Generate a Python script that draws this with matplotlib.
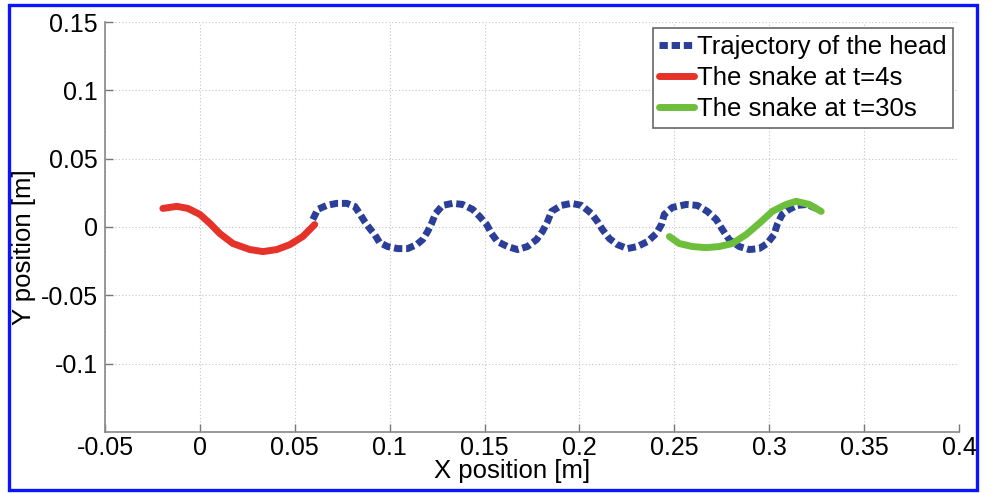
import matplotlib
matplotlib.use("Agg")
import matplotlib.pyplot as plt
from matplotlib.patches import Rectangle

plt.rcParams['font.family'] = ['Liberation Sans', 'DejaVu Sans']

# Trajectory of the head (blue, dotted)
head_x = [0.0595, 0.0621, 0.0668, 0.0721, 0.0774, 0.0816, 0.0842, 0.0868, 0.0895, 0.0921,
          0.0947, 0.0989, 0.1042, 0.1095, 0.1142, 0.1174, 0.1200, 0.1221, 0.1242, 0.1279,
          0.1332, 0.1384, 0.1437, 0.1474, 0.1511, 0.1537, 0.1568, 0.1621, 0.1674, 0.1726,
          0.1774, 0.1805, 0.1832, 0.1853, 0.1905, 0.1958, 0.2011, 0.2063, 0.2095, 0.2121,
          0.2158, 0.2200, 0.2253, 0.2305, 0.2358, 0.2405, 0.2432, 0.2447, 0.2489, 0.2563,
          0.2621, 0.2674, 0.2721, 0.2753, 0.2789, 0.2842, 0.2895, 0.2947, 0.2989, 0.3026,
          0.3042, 0.3068, 0.3105, 0.3147, 0.3200, 0.3247]
head_y = [0.0055, 0.0129, 0.0158, 0.0173, 0.0173, 0.0151, 0.0099, 0.0040, -0.0011, -0.0055,
          -0.0114, -0.0143, -0.0158, -0.0158, -0.0129, -0.0092, -0.0033, 0.0026, 0.0099, 0.0158,
          0.0173, 0.0165, 0.0129, 0.0077, 0.0018, -0.0048, -0.0107, -0.0143, -0.0165, -0.0143,
          -0.0092, -0.0033, 0.0040, 0.0114, 0.0158, 0.0173, 0.0158, 0.0099, 0.0040, -0.0018,
          -0.0085, -0.0129, -0.0158, -0.0143, -0.0107, -0.0048, 0.0018, 0.0092, 0.0143, 0.0165,
          0.0158, 0.0114, 0.0055, -0.0018, -0.0092, -0.0143, -0.0165, -0.0158, -0.0121, -0.0055,
          0.0018, 0.0092, 0.0129, 0.0158, 0.0165, 0.0136]

# The snake at t=4s (red)
snake4_x = [-0.0195, -0.0121, -0.0063, 0.0000, 0.0053, 0.0105, 0.0174, 0.0263, 0.0332,
            0.0405, 0.0474, 0.0542, 0.0605]
snake4_y = [0.0136, 0.0151, 0.0136, 0.0092, 0.0026, -0.0048, -0.0121, -0.0165, -0.0180,
            -0.0165, -0.0129, -0.0070, 0.0018]

# The snake at t=30s (green)
snake30_x = [0.2474, 0.2526, 0.2595, 0.2668, 0.2737, 0.2805, 0.2879, 0.2947, 0.3016,
             0.3089, 0.3142, 0.3211, 0.3274]
snake30_y = [-0.0070, -0.0121, -0.0143, -0.0151, -0.0143, -0.0121, -0.0055, 0.0026, 0.0114,
             0.0165, 0.0188, 0.0165, 0.0114]

labels = ["Trajectory of the head", "The snake at t=4s", "The snake at t=30s"]
xticks = [-0.05, 0, 0.05, 0.1, 0.15, 0.2, 0.25, 0.3, 0.35, 0.4]
xticklabels = ["-0.05", "0", "0.05", "0.1", "0.15", "0.2", "0.25", "0.3", "0.35", "0.4"]
yticks = [-0.1, -0.05, 0, 0.05, 0.1, 0.15]
yticklabels = ["-0.1", "-0.05", "0", "0.05", "0.1", "0.15"]

fig = plt.figure(figsize=(9.92, 4.93), dpi=100)
ax = fig.add_axes([105/992, 1-432/493, (959-105)/992, (432-22)/493])

ax.plot(head_x, head_y, color='#2b3f99', lw=5, dashes=(1.2, 0.55),
        dash_capstyle='butt', solid_capstyle='butt', label=labels[0], zorder=3)
ax.plot(snake4_x, snake4_y, color='#e5332a', lw=5, solid_capstyle='round',
        label=labels[1], zorder=4)
ax.plot(snake30_x, snake30_y, color='#6dbf3b', lw=5, solid_capstyle='round',
        label=labels[2], zorder=5)

ax.set_xlim(-0.05, 0.4)
ax.set_ylim(-0.15, 0.15)
ax.set_xticks(xticks)
ax.set_xticklabels(xticklabels)
ax.set_yticks(yticks)
ax.set_yticklabels(yticklabels)
ax.grid(True, color='#c4c4c4', linestyle=(0, (1, 2)), linewidth=0.8)
for s in ['top', 'right']:
    ax.spines[s].set_visible(False)
for s in ['left', 'bottom']:
    ax.spines[s].set_color('#888888')
    ax.spines[s].set_linewidth(1.2)
ax.tick_params(direction='in', length=6, width=1, color='#777777',
               labelsize=18, labelcolor='black', pad=5)
ax.tick_params(axis='x', pad=3)
ax.set_xlabel("X position [m]", fontsize=18.5)
ax.set_ylabel("Y position [m]", fontsize=18.5)
ax.xaxis.set_label_coords(0.477, -0.067)
ax.yaxis.set_label_coords(-0.081, 0.45)

leg = ax.legend(loc='upper right', fontsize=18.5, handlelength=1.35, handletextpad=0.1,
                borderpad=0.25, labelspacing=0.28, fancybox=False, framealpha=1,
                borderaxespad=0.25)
leg.get_frame().set_edgecolor('#666666')
leg.get_frame().set_linewidth(1.2)

fig.patches.append(Rectangle((979/992, 0), 13/992, 1, transform=fig.transFigure,
                             facecolor='white', edgecolor='none', zorder=9))
fig.patches.append(Rectangle((9/992, 3/493), (977-9)/992, (490-5)/493,
                             transform=fig.transFigure, fill=False,
                             edgecolor='#0a14ff', linewidth=2.4, zorder=10))

fig.savefig("out.png", dpi=100)
